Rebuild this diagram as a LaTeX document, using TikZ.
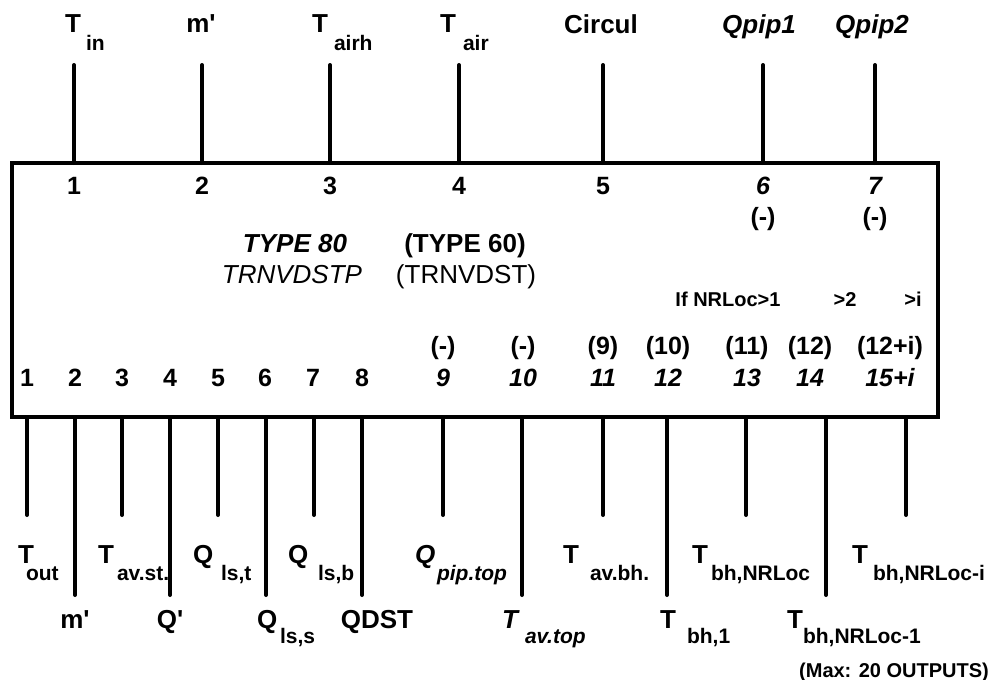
\documentclass[tikz,border=0pt]{standalone}
\usepackage{fontspec}
\setmainfont{Liberation Sans}
\begin{document}
\begin{tikzpicture}[x=1pt,y=-1pt,
  every node/.style={inner sep=0pt, outer sep=0pt},
  lab/.style={font=\fontsize{26}{30}\selectfont\bfseries},
  labit/.style={font=\fontsize{26}{30}\selectfont\bfseries\itshape},
  sub/.style={font=\fontsize{21}{25}\selectfont\bfseries, anchor=base west},
  subit/.style={font=\fontsize{21}{25}\selectfont\bfseries\itshape, anchor=base west},
  num/.style={font=\fontsize{25}{30}\selectfont\bfseries, anchor=base},
  numit/.style={font=\fontsize{25}{30}\selectfont\bfseries\itshape, anchor=base},
  note/.style={font=\fontsize{20}{24}\selectfont\bfseries, anchor=base},
  pin/.style={line width=4pt, line cap=round},
  frame/.style={draw, line width=4.5pt, minimum width=926pt, minimum height=254pt}]
\useasboundingbox (0,0) rectangle (996,680);

% component block
\node[frame] (unit) at (475,290) {};

% input pins
\foreach \n/\x in {1/74,2/202,3/330,4/459,5/603,6/763,7/875}{
  \coordinate (in\n) at (\x,65);
  \draw[pin] (unit.north -| in\n) -- (in\n);
}

% output pins (alternating short and long)
\foreach \n/\x/\y in {1/27/515,2/75/595,3/122/515,4/170/595,5/218/515,
  6/266/595,7/314/515,8/362/595,9/443/515,10/522/595,11/603/515,
  12/667/595,13/746/515,14/826/595,15/906/515}{
  \coordinate (out\n) at (\x,\y);
  \draw[pin] (unit.south -| out\n) -- (out\n);
}

% input labels
\node[lab, anchor=base west] (tin) at (65,32) {T};
\node[sub] (tinS) at (86,50) {in};
\node[lab, anchor=base] (mflow) at (201,32) {m\textquotesingle};
\node[lab, anchor=base west] (tairh) at (312,32) {T};
\node[sub] (tairhS) at (334,50) {airh};
\node[lab, anchor=base west] (tair) at (440,32) {T};
\node[sub] (tairS) at (463,50) {air};
\node[lab, anchor=base] (circ) at (601,34) {Circul};
\node[labit, anchor=base] (qp1) at (759,34) {Qpip1};
\node[labit, anchor=base] (qp2) at (872,34) {Qpip2};

% input numbers
\node[num] (i1) at (74,194) {1};
\node[num] (i2) at (202,194) {2};
\node[num] (i3) at (330,194) {3};
\node[num] (i4) at (459,194) {4};
\node[num] (i5) at (603,194) {5};
\node[numit] (i6) at (763,194) {6};
\node[numit] (i7) at (875,194) {7};
\node[num] (i6o) at (763,225) {(-)};
\node[num] (i7o) at (875,225) {(-)};

% type names
\node[labit, anchor=base] (t80) at (295,252) {TYPE 80};
\node[font=\fontsize{26}{30}\selectfont\itshape, anchor=base] (t80n) at (292,283) {TRNVDSTP};
\node[lab, anchor=base] (t60) at (465,252) {(TYPE 60)};
\node[font=\fontsize{26}{30}\selectfont, anchor=base] (t60n) at (466,283) {(TRNVDST)};

% conditional outputs
\node[note] (c1) at (728,306) {If NRLoc>1};
\node[note] (c2) at (845,306) {>2};
\node[note] (ci) at (913,306) {>i};

% output numbers
\foreach \n/\x in {1/27,2/75,3/122,4/170,5/218,6/265,7/313,8/362}{
  \node[num] (o\n) at (\x,386) {\n};
}
\foreach \n/\x in {9/443,10/523,11/603,12/668,13/747,14/810}{
  \node[numit] (o\n) at (\x,386) {\n};
}
\node[numit] (o15) at (890,386) {15+i};
\node[num] (p9) at (443,354) {(-)};
\node[num] (p10) at (523,354) {(-)};
\node[num] (p11) at (603,354) {(9)};
\node[num] (p12) at (668,354) {(10)};
\node[num] (p13) at (747,354) {(11)};
\node[num] (p14) at (810,354) {(12)};
\node[num] (p15) at (890,354) {(12+i)};

% output labels, upper row
\node[lab, anchor=base west] (tout) at (18,563) {T};
\node[sub] (toutS) at (26,580) {out};
\node[lab, anchor=base west] (tavst) at (98,563) {T};
\node[sub] (tavstS) at (117,580) {av.st.};
\node[lab, anchor=base west] (qlst) at (193,563) {Q};
\node[sub] (qlstS) at (221,580) {ls,t};
\node[lab, anchor=base west] (qlsb) at (288,563) {Q};
\node[sub] (qlsbS) at (318,580) {ls,b};
\node[labit, anchor=base west] (qpt) at (415,563) {Q};
\node[subit] (qptS) at (437,580) {pip.top};
\node[lab, anchor=base west] (tavbh) at (563,563) {T};
\node[sub] (tavbhS) at (590,580) {av.bh.};
\node[lab, anchor=base west] (tbhn) at (692,563) {T};
\node[sub] (tbhnS) at (711,580) {bh,NRLoc};
\node[lab, anchor=base west] (tbhni) at (852,563) {T};
\node[sub] (tbhniS) at (873,580) {bh,NRLoc-i};

% output labels, lower row
\node[lab, anchor=base] (mout) at (75,628) {m\textquotesingle};
\node[lab, anchor=base] (qdot) at (170,628) {Q\textquotesingle};
\node[lab, anchor=base west] (qlss) at (257,628) {Q};
\node[sub] (qlssS) at (280,643) {ls,s};
\node[lab, anchor=base] (qdst) at (377,628) {QDST};
\node[labit, anchor=base west] (tavt) at (502,628) {T};
\node[subit] (tavtS) at (525,643) {av.top};
\node[lab, anchor=base west] (tbh1) at (660,628) {T};
\node[sub] (tbh1S) at (687,643) {bh,1};
\node[lab, anchor=base west] (tbhn1) at (787,628) {T};
\node[sub] (tbhn1S) at (803,643) {bh,NRLoc-1};
\node[font=\fontsize{20}{24}\selectfont\bfseries, anchor=base] (maxo) at (894,677) {(Max: 20 OUTPUTS)};
\end{tikzpicture}
\end{document}
